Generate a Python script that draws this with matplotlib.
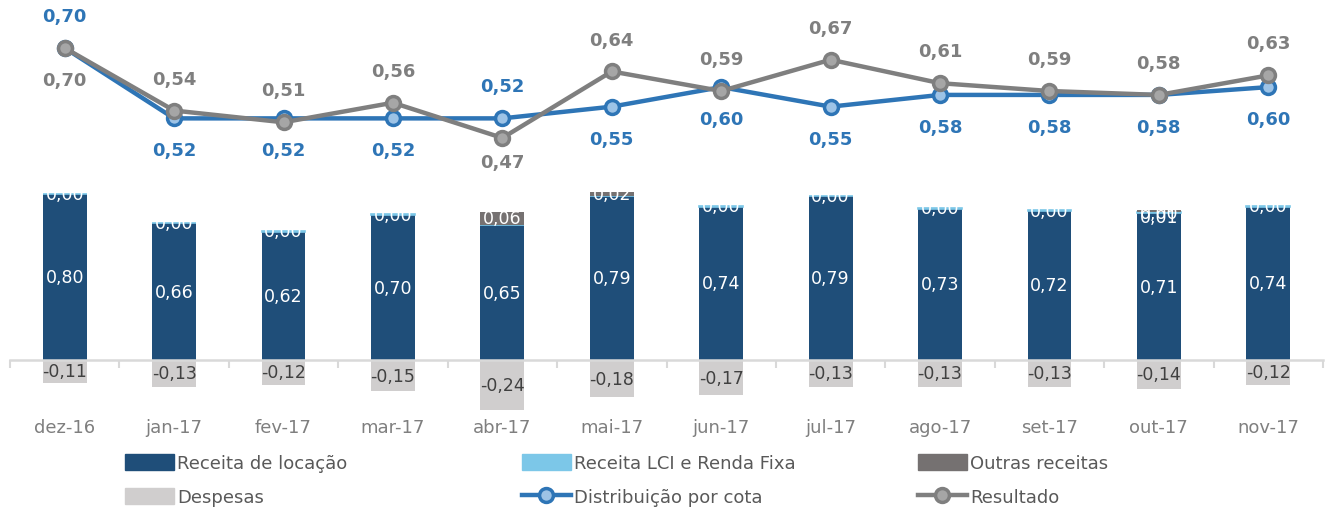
import matplotlib
matplotlib.use("Agg")
import matplotlib.pyplot as plt
from matplotlib.patches import Patch
from matplotlib.lines import Line2D

# data
meses = ["dez-16", "jan-17", "fev-17", "mar-17", "abr-17", "mai-17",
         "jun-17", "jul-17", "ago-17", "set-17", "out-17", "nov-17"]
receita_locacao = [0.80, 0.66, 0.62, 0.70, 0.65, 0.79, 0.74, 0.79, 0.73, 0.72, 0.71, 0.74]
receita_lci = [0.004] * 12
outras_receitas = [0.0, 0.0, 0.0, 0.0, 0.06, 0.02, 0.0, 0.0, 0.0, 0.0, 0.01, 0.0]
despesas = [-0.11, -0.13, -0.12, -0.15, -0.24, -0.18, -0.17, -0.13, -0.13, -0.13, -0.14, -0.12]
distribuicao = [0.70, 0.52, 0.52, 0.52, 0.52, 0.55, 0.60, 0.55, 0.58, 0.58, 0.58, 0.60]
resultado = [0.70, 0.54, 0.51, 0.56, 0.47, 0.64, 0.59, 0.67, 0.61, 0.59, 0.58, 0.63]
# label placement: +1 above the point, -1 below
pos_distrib = [1, -1, -1, -1, 1, -1, -1, -1, -1, -1, -1, -1]
pos_result = [-1, 1, 1, 1, -1, 1, 1, 1, 1, 1, 1, 1]

c_loc = "#1F4E79"
c_lci = "#7CC7E8"
c_outras = "#757171"
c_desp = "#D0CECE"
c_dist = "#2E75B6"
c_dist_face = "#9DC3E6"
c_res = "#7F7F7F"
c_res_face = "#A6A6A6"

plt.rcParams["font.family"] = "DejaVu Sans"

fig = plt.figure(figsize=(13.25, 5.10), dpi=100)
ax = fig.add_axes([10 / 1325, 1 - 412 / 510, 1313 / 1325, 412 / 510])
x = list(range(len(meses)))
w = 0.40

ax.bar(x, receita_locacao, w, color=c_loc)
ax.bar(x, receita_lci, w, bottom=receita_locacao, color=c_lci,
       edgecolor=c_lci, linewidth=1.2)
base3 = [a + b for a, b in zip(receita_locacao, receita_lci)]
ax.bar(x, outras_receitas, w, bottom=base3, color=c_outras)
ax.bar(x, despesas, w, color=c_desp)

fmt = lambda v: f"{v:.2f}".replace(".", ",")
for i in x:
    ax.text(i, receita_locacao[i] / 2, fmt(receita_locacao[i]), ha="center", va="center",
            color="white", fontsize=12.5)
    if outras_receitas[i] < 0.02:
        ax.text(i, receita_locacao[i] + receita_lci[i] / 2, fmt(receita_lci[i]), ha="center",
                va="center", color="white", fontsize=12.5)
    if outras_receitas[i] > 0:
        yy = base3[i] + outras_receitas[i] / 2
        if outras_receitas[i] < 0.02:
            yy -= 0.03
        ax.text(i, yy, fmt(outras_receitas[i]), ha="center",
                va="center", color="white", fontsize=12.5)
    ax.text(i, despesas[i] / 2, fmt(despesas[i]), ha="center", va="center",
            color="#404040", fontsize=12.5)

ax.set_xlim(-0.5, 11.5)
ax.set_ylim(-51 / 207, 361 / 207)
ax.set_yticks([])
for s in ["top", "left", "right"]:
    ax.spines[s].set_visible(False)
ax.spines["bottom"].set_position(("data", 0))
ax.spines["bottom"].set_color("#D9D9D9")
ax.spines["bottom"].set_linewidth(1.8)
ax.set_xticks(x)
ax.set_xticklabels(meses)
ax.set_xticks([i - 0.5 for i in range(13)], minor=True)
ax.tick_params(axis="x", which="major", length=0, pad=42, labelsize=13, labelcolor="#7F7F7F")
ax.tick_params(axis="x", which="minor", length=6, width=1.5, color="#D9D9D9", direction="out")
ax.patch.set_visible(False)

# lines on a second axis
ax2 = ax.twinx()
ax2.set_ylim(0.70 - 363 / 391, 0.70 + 49 / 391)
ax2.axis("off")
ax2.plot(x, distribuicao, color=c_dist, lw=3.2, marker="o", ms=10,
         mfc=c_dist_face, mec=c_dist, mew=2.5, zorder=3)
ax2.plot(x, resultado, color=c_res, lw=3.2, marker="o", ms=10,
         mfc=c_res_face, mec=c_res, mew=2.5, zorder=4)
for i in x:
    ax2.annotate(fmt(distribuicao[i]), (i, distribuicao[i]), xytext=(0, 23 * pos_distrib[i]),
                 textcoords="offset points", ha="center", va="center",
                 color=c_dist, fontsize=13, fontweight="bold")
    off = 17 if i == 4 else 23
    ax2.annotate(fmt(resultado[i]), (i, resultado[i]), xytext=(0, off * pos_result[i]),
                 textcoords="offset points", ha="center", va="center",
                 color=c_res, fontsize=13, fontweight="bold")

# legend, three columns of two rows
h_loc = Patch(color=c_loc)
h_lci = Patch(color=c_lci)
h_out = Patch(color=c_outras)
h_desp = Patch(color=c_desp)
h_dist = Line2D([], [], color=c_dist, lw=3.2, marker="o", ms=10, mfc=c_dist_face, mec=c_dist, mew=2.5)
h_res = Line2D([], [], color=c_res, lw=3.2, marker="o", ms=10, mfc=c_res_face, mec=c_res, mew=2.5)
cols = [([h_loc, h_desp], ["Receita de locação", "Despesas"], 125),
        ([h_lci, h_dist], ["Receita LCI e Renda Fixa", "Distribuição por cota"], 522),
        ([h_out, h_res], ["Outras receitas", "Resultado"], 918)]
for hs, ls, px in cols:
    fig.legend(hs, ls, loc="upper left", bbox_to_anchor=(px / 1325, 1 - 455 / 510),
               frameon=False, borderpad=0, borderaxespad=0, fontsize=13,
               handlelength=2.7, handleheight=1.0, handletextpad=0.2,
               labelspacing=0.85, labelcolor="#595959")

fig.savefig("out.png", dpi=100)
